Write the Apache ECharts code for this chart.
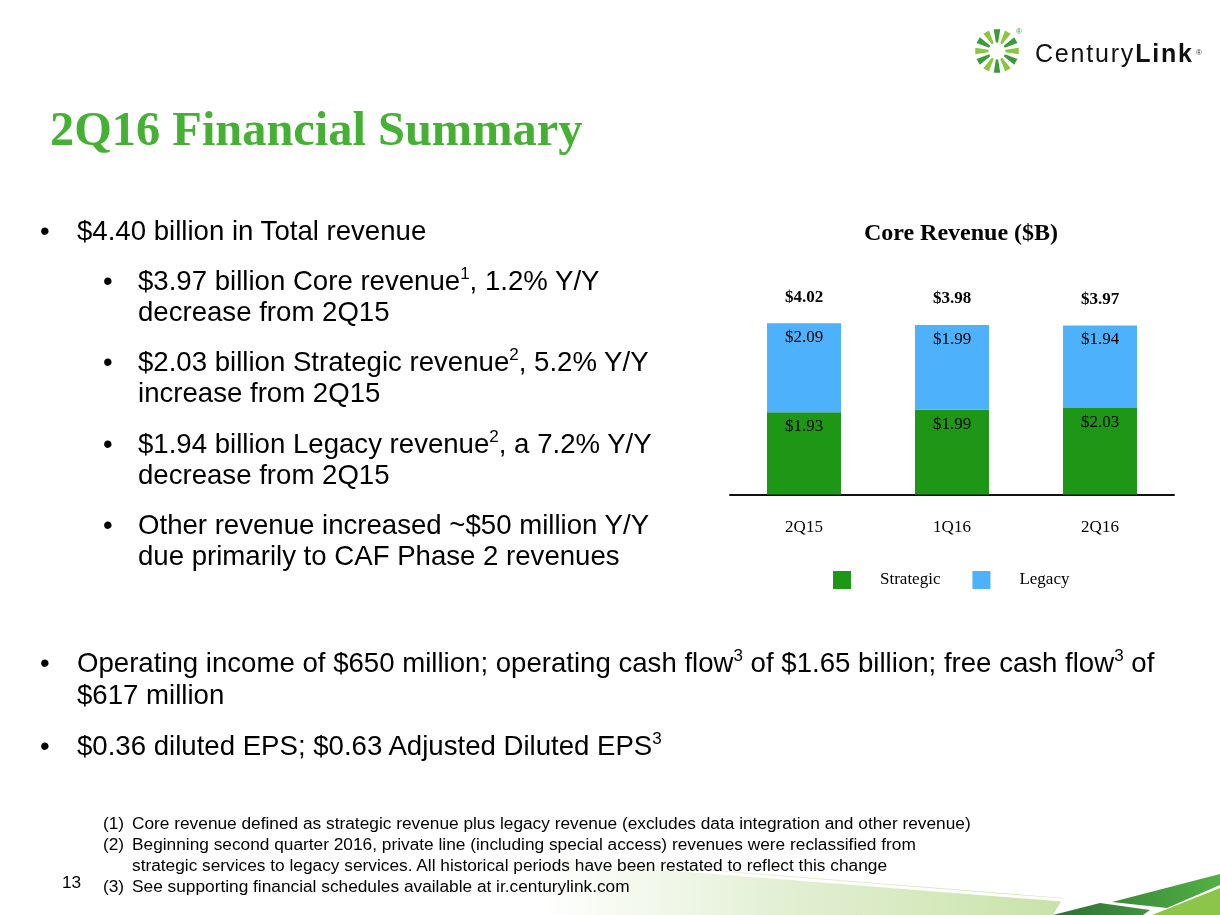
<!DOCTYPE html>
<html>
<head>
<meta charset="utf-8">
<script src="https://cdn.jsdelivr.net/npm/echarts@6/dist/echarts.min.js"></script>
<style>
html,body{margin:0;padding:0;background:#fff;}
#wrap{position:relative;width:1220px;height:915px;overflow:hidden;background:#fff;}
#chart{position:absolute;left:0;top:0;width:1220px;height:915px;}
.t{position:absolute;font-family:'Liberation Sans',Arial,sans-serif;color:#000;white-space:nowrap;z-index:5;}
.b{font-size:27.6px;line-height:31px;}
.sup{font-size:17px;position:relative;top:-11px;line-height:0;}
.fn{font-size:17.3px;line-height:21px;}
#title{position:absolute;left:50px;top:105px;font-family:'Liberation Serif','Times New Roman',serif;font-weight:bold;font-size:48.4px;line-height:48px;color:#46B035;white-space:nowrap;z-index:5;}
svg{position:absolute;z-index:1;}
</style>
</head>
<body>
<div id="wrap">
  <svg id="deco" style="left:0;top:850px" width="1220" height="65" viewBox="0 850 1220 65">
    <defs>
      <linearGradient id="lg1" x1="0" y1="0" x2="1" y2="0">
        <stop offset="0" stop-color="#d6e9c0" stop-opacity="0"/>
        <stop offset="0.5" stop-color="#d6e9c0" stop-opacity="0.75"/>
        <stop offset="1" stop-color="#c8e2a8" stop-opacity="1"/>
      </linearGradient>
      <linearGradient id="lg2" x1="0" y1="0" x2="1" y2="0">
        <stop offset="0" stop-color="#2f6e35"/>
        <stop offset="1" stop-color="#3f9440"/>
      </linearGradient>
      <linearGradient id="lg3" x1="0" y1="0" x2="1" y2="0">
        <stop offset="0" stop-color="#3b8a3b"/>
        <stop offset="1" stop-color="#52b043"/>
      </linearGradient>
    </defs>
    <polygon points="540,915 540,856 1063,898 1053,915" fill="url(#lg1)"/>
    <polygon points="600,862 1070,899 1068,902 600,865" fill="#ffffff"/>
    <polygon points="1053,915 1100,903 1150,910 1143,915" fill="url(#lg2)"/>
    <polygon points="1112,902 1220,874 1220,885 1167,908" fill="url(#lg3)"/>
    <polygon points="1152,915 1220,888 1220,915" fill="#8cc54a"/>
  </svg>
  <svg id="logo" style="left:960px;top:20px" width="250" height="70" viewBox="960 20 250 70"></svg>
  <div id="chart"></div>

  <div id="title">2Q16 Financial Summary</div>

  <div class="t b" style="left:40px;top:215px">•</div>
  <div class="t b" style="left:77px;top:215px">$4.40 billion in Total revenue</div>

  <div class="t b" style="left:103px;top:265px">•</div>
  <div class="t b" style="left:138px;top:265px">$3.97 billion Core revenue<span class="sup">1</span>, 1.2% Y/Y<br>decrease from 2Q15</div>

  <div class="t b" style="left:103px;top:346px">•</div>
  <div class="t b" style="left:138px;top:346px">$2.03 billion Strategic revenue<span class="sup">2</span>, 5.2% Y/Y<br>increase from 2Q15</div>

  <div class="t b" style="left:103px;top:428px">•</div>
  <div class="t b" style="left:138px;top:428px">$1.94 billion Legacy revenue<span class="sup">2</span>, a 7.2% Y/Y<br>decrease from 2Q15</div>

  <div class="t b" style="left:103px;top:509px">•</div>
  <div class="t b" style="left:138px;top:509px">Other revenue increased ~$50 million Y/Y<br>due primarily to CAF Phase 2 revenues</div>

  <div class="t b" style="left:40px;top:647px">•</div>
  <div class="t b" style="left:77px;top:647px;line-height:32px">Operating income of $650 million; operating cash flow<span class="sup">3</span> of $1.65 billion; free cash flow<span class="sup">3</span> of<br>$617 million</div>

  <div class="t b" style="left:40px;top:730px">•</div>
  <div class="t b" style="left:77px;top:730px">$0.36 diluted EPS; $0.63 Adjusted Diluted EPS<span class="sup">3</span></div>

  <div class="t fn" style="left:103px;top:813px">(1)<br>(2)<br><br>(3)</div>
  <div class="t fn" style="left:132px;top:813px">Core revenue defined as strategic revenue plus legacy revenue (excludes data integration and other revenue)<br>Beginning second quarter 2016, private line (including special access) revenues were reclassified from<br>strategic services to legacy services. All historical periods have been restated to reflect this change<br>See supporting financial schedules available at ir.centurylink.com</div>
  <div class="t fn" style="left:62px;top:872px">13</div>
</div>
<script>
// ---- data ----
const categories = ['2Q15', '1Q16', '2Q16'];
const strategic = [1.93, 1.99, 2.03];
const legacy = [2.09, 1.99, 1.94];
const totals = [4.02, 3.98, 3.97];
const seriesNames = ['Strategic', 'Legacy'];

// ---- logo ----
(function () {
  const svg = document.getElementById('logo');
  const ns = 'http://www.w3.org/2000/svg';
  const cx = 997, cy = 51, r0 = 8.5, r1 = 22, n = 12;
  for (let i = 0; i < n; i++) {
    const a = (i * 360 / n - 90) * Math.PI / 180;
    const hw = 8.5 * Math.PI / 180;
    const pts = [
      [cx + r0 * Math.cos(a - hw * 0.9), cy + r0 * Math.sin(a - hw * 0.9)],
      [cx + r1 * Math.cos(a - hw), cy + r1 * Math.sin(a - hw)],
      [cx + r1 * Math.cos(a + hw), cy + r1 * Math.sin(a + hw)],
      [cx + r0 * Math.cos(a + hw * 0.9), cy + r0 * Math.sin(a + hw * 0.9)]
    ];
    const p = document.createElementNS(ns, 'polygon');
    p.setAttribute('points', pts.map(q => q.join(',')).join(' '));
    p.setAttribute('fill', i % 2 ? '#8cc63f' : '#3a9a3c');
    svg.appendChild(p);
  }
  const t = document.createElementNS(ns, 'text');
  t.setAttribute('x', 1035); t.setAttribute('y', 62);
  t.setAttribute('font-family', 'Liberation Sans, Arial, sans-serif');
  t.setAttribute('font-size', '25');
  t.setAttribute('letter-spacing', '1.8');
  t.setAttribute('fill', '#111');
  t.innerHTML = 'Century<tspan font-weight="bold">Link</tspan>';
  svg.appendChild(t);
  const r1m = document.createElementNS(ns, 'text');
  r1m.setAttribute('x', 1196); r1m.setAttribute('y', 55);
  r1m.setAttribute('font-size', '8'); r1m.setAttribute('fill', '#333');
  r1m.setAttribute('font-family', 'Liberation Sans, Arial, sans-serif');
  r1m.textContent = '®';
  svg.appendChild(r1m);
  const r2m = r1m.cloneNode(true);
  r2m.setAttribute('x', 1016); r2m.setAttribute('y', 34);
  r2m.setAttribute('fill', '#3a9a3c');
  svg.appendChild(r2m);
})();

// ---- chart ----
const serif = 'Liberation Serif, Times New Roman, serif';
const money = v => '$' + Number(v).toFixed(2);
const chart = echarts.init(document.getElementById('chart'), null, { renderer: 'canvas' });
const option = {
  animation: false,
  backgroundColor: 'transparent',
  title: {
    text: 'Core Revenue ($B)',
    left: 956, top: 217, textAlign: 'center',
    textStyle: { fontFamily: serif, fontWeight: 'bold', fontSize: 24, color: '#000' }
  },
  legend: {
    data: seriesNames,
    left: 828, top: 566,
    itemWidth: 18, itemHeight: 18, itemGap: 32,
    icon: 'rect',
    textStyle: { fontFamily: serif, fontSize: 17, color: '#000', padding: [0, 0, 0, 24] }
  },
  grid: { left: 730, top: 281.5, width: 444, height: 213 },
  xAxis: {
    type: 'category',
    data: categories,
    axisLine: { lineStyle: { color: '#111', width: 2 } },
    axisTick: { alignWithLabel: true, length: 8, lineStyle: { color: '#aaa', width: 2 } },
    axisLabel: { margin: 25, fontFamily: serif, fontSize: 17, color: '#000' }
  },
  yAxis: { type: 'value', min: 0, max: 5, show: false },
  series: [
    {
      name: seriesNames[0], type: 'bar', stack: 'core', data: strategic, barWidth: 74,
      itemStyle: { color: '#1E9616' },
      label: { show: true, position: 'insideTop', distance: 6, formatter: p => money(p.value),
        fontFamily: serif, fontSize: 17, color: '#000' }
    },
    {
      name: seriesNames[1], type: 'bar', stack: 'core', data: legacy, barWidth: 74,
      itemStyle: { color: '#4DB1FC' },
      label: { show: true, position: 'insideTop', distance: 6, formatter: p => money(p.value),
        fontFamily: serif, fontSize: 17, color: '#000' }
    },
    {
      name: 'Total', type: 'scatter', data: totals, symbolSize: 1,
      itemStyle: { color: 'rgba(0,0,0,0)', opacity: 1 }, silent: true,
      label: { show: true, position: 'top', distance: 17, formatter: p => money(p.value),
        fontFamily: serif, fontSize: 17, fontWeight: 'bold', color: '#000', opacity: 1 }
    }
  ]
};
chart.setOption(option);
</script>
</body>
</html>
